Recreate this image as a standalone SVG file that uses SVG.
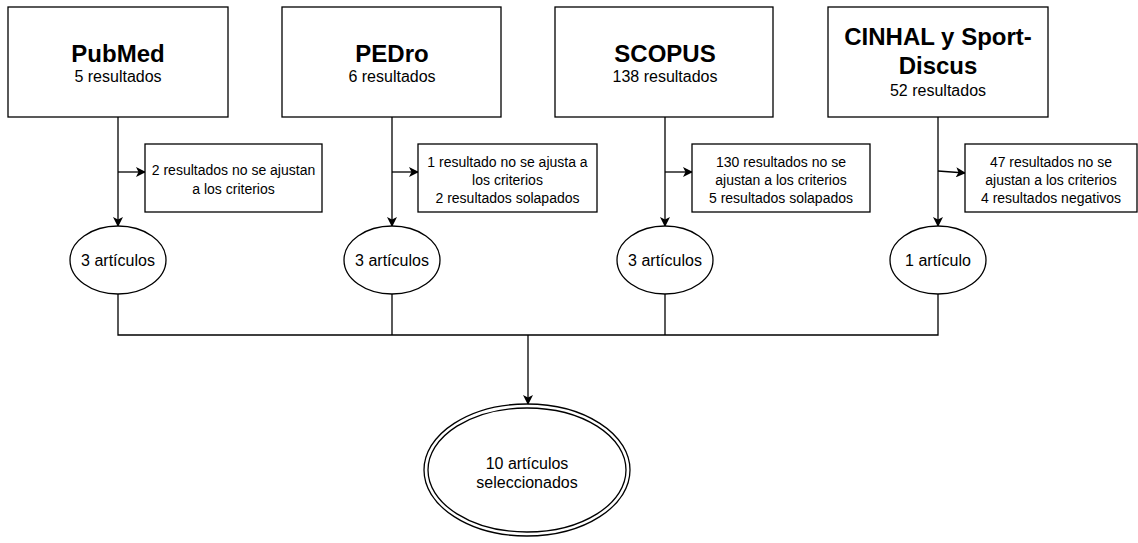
<svg xmlns="http://www.w3.org/2000/svg" width="1138" height="543" viewBox="0 0 1138 543">
<style>
.box{fill:#fff;stroke:#000;stroke-width:1.3}
.ln{fill:none;stroke:#000;stroke-width:1.3}
.t{font-family:"Liberation Sans",Arial,sans-serif;fill:#000;text-anchor:middle}
.h{font-size:24px;font-weight:bold}
.s{font-size:16px}
.n{font-size:14px}
</style>
<defs>
<marker id="arr" viewBox="0 0 10 10" refX="9" refY="5" markerWidth="10" markerHeight="10" markerUnits="userSpaceOnUse" orient="auto">
<path d="M0,0 L10,5 L0,10 L2.5,5 Z" fill="#000"/>
</marker>
</defs>
<g id="connectors">
<path class="ln" d="M118,117 V226" marker-end="url(#arr)"/>
<path class="ln" d="M118,172 H145" marker-end="url(#arr)"/>
<path class="ln" d="M392,117 V226" marker-end="url(#arr)"/>
<path class="ln" d="M392,172 H418" marker-end="url(#arr)"/>
<path class="ln" d="M665,117 V226" marker-end="url(#arr)"/>
<path class="ln" d="M665,172 H692" marker-end="url(#arr)"/>
<path class="ln" d="M938,117 V226" marker-end="url(#arr)"/>
<path class="ln" d="M938,171 L965,173" marker-end="url(#arr)"/>
<path class="ln" d="M118,294 V335 H938 V294"/>
<path class="ln" d="M392,294 V335"/>
<path class="ln" d="M665,294 V335"/>
<path class="ln" d="M528,335 V404" marker-end="url(#arr)"/>
</g>
<g id="pubmed">
<rect class="box" x="8" y="7" width="220" height="110"/>
<text class="t h" x="118" y="62">PubMed</text>
<text class="t s" x="118" y="82">5 resultados</text>
</g>
<g id="pedro">
<rect class="box" x="282" y="7" width="219" height="110"/>
<text class="t h" x="392" y="62">PEDro</text>
<text class="t s" x="392" y="82">6 resultados</text>
</g>
<g id="scopus">
<rect class="box" x="555" y="7" width="218" height="110"/>
<text class="t h" x="665" y="62">SCOPUS</text>
<text class="t s" x="665" y="82">138 resultados</text>
</g>
<g id="cinhal">
<rect class="box" x="828" y="7" width="220" height="110"/>
<text class="t h" x="938" y="45">CINHAL y Sport-</text>
<text class="t h" x="938" y="74">Discus</text>
<text class="t s" x="938" y="96">52 resultados</text>
</g>
<g id="excl-pubmed">
<rect class="box" x="145" y="144" width="177" height="68"/>
<text class="t n" x="233.5" y="175">2 resultados no se ajustan</text>
<text class="t n" x="233.5" y="194">a los criterios</text>
</g>
<g id="excl-pedro">
<rect class="box" x="418" y="144" width="179" height="68"/>
<text class="t n" x="507.5" y="167">1 resultado no se ajusta a</text>
<text class="t n" x="507.5" y="185">los criterios</text>
<text class="t n" x="507.5" y="203">2 resultados solapados</text>
</g>
<g id="excl-scopus">
<rect class="box" x="692" y="144" width="178" height="68"/>
<text class="t n" x="781" y="167">130 resultados no se</text>
<text class="t n" x="781" y="185">ajustan a los criterios</text>
<text class="t n" x="781" y="203">5 resultados solapados</text>
</g>
<g id="excl-cinhal">
<rect class="box" x="965" y="144" width="172" height="68"/>
<text class="t n" x="1051" y="167">47 resultados no se</text>
<text class="t n" x="1051" y="185">ajustan a los criterios</text>
<text class="t n" x="1051" y="203">4 resultados negativos</text>
</g>
<g id="res-pubmed">
<ellipse class="box" cx="118" cy="260" rx="48" ry="34"/>
<text class="t s" x="118" y="266">3 artículos</text>
</g>
<g id="res-pedro">
<ellipse class="box" cx="392" cy="260" rx="48" ry="34"/>
<text class="t s" x="392" y="266">3 artículos</text>
</g>
<g id="res-scopus">
<ellipse class="box" cx="665" cy="260" rx="48" ry="34"/>
<text class="t s" x="665" y="266">3 artículos</text>
</g>
<g id="res-cinhal">
<ellipse class="box" cx="938" cy="260" rx="48" ry="34"/>
<text class="t s" x="938" y="266">1 artículo</text>
</g>
<g id="final">
<ellipse class="box" cx="527" cy="470" rx="103" ry="66"/>
<ellipse class="box" cx="527" cy="470" rx="99" ry="62"/>
<text class="t s" x="527" y="469">10 artículos</text>
<text class="t s" x="527" y="488">seleccionados</text>
</g>
</svg>
